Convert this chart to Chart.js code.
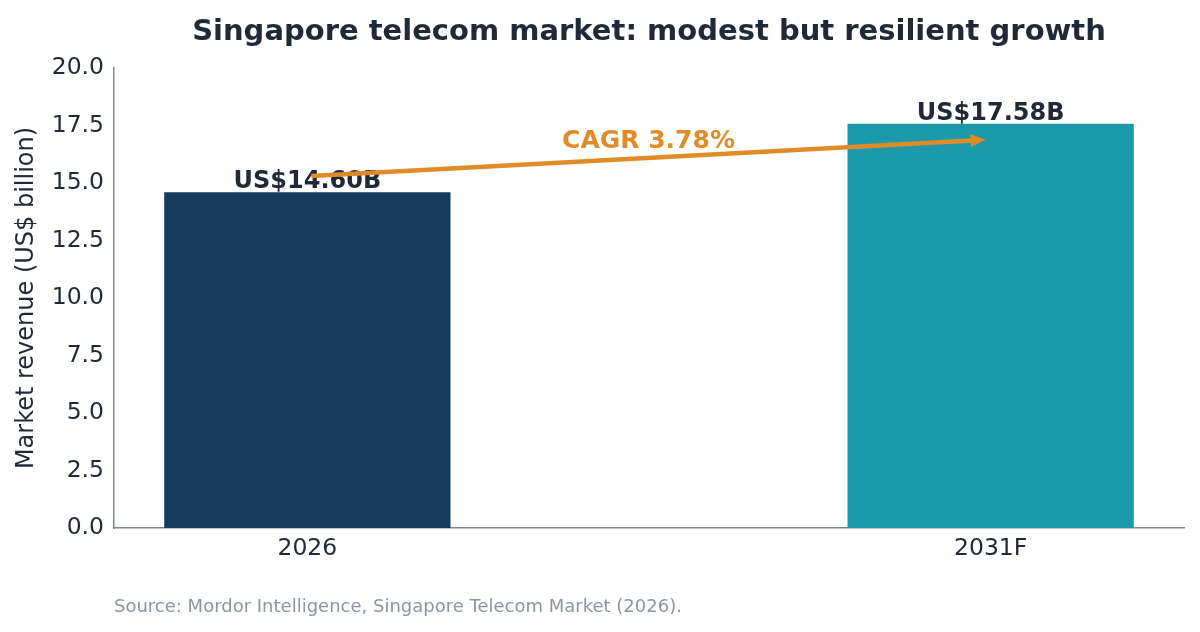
<!DOCTYPE html>
<html>
<head>
<meta charset="utf-8">
<script src="https://cdn.jsdelivr.net/npm/chart.js@4.4.1/dist/chart.umd.min.js"></script>
<style>
html,body{margin:0;padding:0;background:#fff;}
#wrap{width:1200px;height:632px;position:relative;}
</style>
</head>
<body>
<div id="wrap"><canvas id="c" width="1200" height="632"></canvas></div>
<script>
const categories = ["2026", "2031F"];
const revenue = [14.60, 17.58];
const valueLabels = ["US$14.60B", "US$17.58B"];
const cagrLabel = "CAGR 3.78%";
const yTicks = [0, 2.5, 5, 7.5, 10, 12.5, 15, 17.5, 20];
const titleText = "Singapore telecom market: modest but resilient growth";
const sourceText = "Source: Mordor Intelligence, Singapore Telecom Market (2026).";

const FONT = "'DejaVu Sans', sans-serif";
const TEXT = "#1f2937";
const ORANGE = "#e08a28";

const annot = {
  id: "annot",
  afterDatasetsDraw(chart) {
    const ctx = chart.ctx;
    const xs = chart.scales.x, ys = chart.scales.y;
    const area = chart.chartArea;
    ctx.save();
    // title
    ctx.fillStyle = TEXT;
    ctx.font = "bold 29px " + FONT;
    ctx.textAlign = "center";
    ctx.textBaseline = "alphabetic";
    ctx.fillText(titleText, (area.left + area.right) / 2, 40);
    // value labels
    ctx.font = "bold 24px " + FONT;
    revenue.forEach((v, i) => {
      ctx.fillText(valueLabels[i], xs.getPixelForValue(i), ys.getPixelForValue(v) - 4);
    });
    // arrow
    const x1 = xs.getPixelForValue(0) + 4, y1 = ys.getPixelForValue(revenue[0] + 0.7);
    const x2 = xs.getPixelForValue(1) - 5, y2 = ys.getPixelForValue(revenue[1] - 0.7);
    const ang = Math.atan2(y2 - y1, x2 - x1);
    const hl = 15, hw = 6.5;
    const bx = x2 - hl * Math.cos(ang), by = y2 - hl * Math.sin(ang);
    ctx.strokeStyle = ORANGE;
    ctx.fillStyle = ORANGE;
    ctx.lineWidth = 4.5;
    ctx.lineCap = "butt";
    ctx.beginPath();
    ctx.moveTo(x1, y1);
    ctx.lineTo(bx + 2 * Math.cos(ang), by + 2 * Math.sin(ang));
    ctx.stroke();
    ctx.beginPath();
    ctx.moveTo(x2, y2);
    ctx.lineTo(bx - hw * Math.sin(ang), by + hw * Math.cos(ang));
    ctx.lineTo(bx + hw * Math.sin(ang), by - hw * Math.cos(ang));
    ctx.closePath();
    ctx.fill();
    // CAGR label
    ctx.font = "bold 25px " + FONT;
    ctx.fillText(cagrLabel, (x1 + x2) / 2, (y1 + y2) / 2 - 10);
    // source
    ctx.fillStyle = "#8b95a5";
    ctx.font = "18px " + FONT;
    ctx.textAlign = "left";
    ctx.fillText(sourceText, area.left, 612);
    ctx.restore();
  }
};

new Chart(document.getElementById("c"), {
  type: "bar",
  data: {
    datasets: [{
      data: revenue.map((v, i) => ({ x: i, y: v })),
      backgroundColor: ["#163a5b", "#1d9aa9"],
      borderWidth: 0,
      categoryPercentage: 1,
      barPercentage: 0.419
    }]
  },
  options: {
    responsive: false,
    animation: false,
    devicePixelRatio: 1,
    layout: { padding: { left: 0, right: 16, top: 68, bottom: 0 } },
    plugins: { legend: { display: false }, title: { display: false }, tooltip: { enabled: false } },
    scales: {
      x: {
        type: "linear",
        offset: false,
        min: -0.283,
        max: 1.283,
        afterBuildTicks(s) { s.ticks = categories.map((c, i) => ({ value: i })); },
        afterFit(s) { s.height = 104; },
        grid: { display: false, drawTicks: false, offset: false },
        border: { display: true, color: "#7b8597", width: 1.5 },
        ticks: {
          padding: 7,
          color: TEXT,
          font: { family: FONT, size: 23.5 },
          callback: (v) => categories[v] ?? "",
          maxRotation: 0
        }
      },
      y: {
        min: 0,
        max: 20,
        afterBuildTicks(s) { s.ticks = yTicks.map(v => ({ value: v })); },
        afterFit(s) { s.width = 114; },
        grid: { display: false, drawTicks: false },
        border: { display: true, color: "#7b8597", width: 1.5 },
        ticks: {
          padding: 10,
          color: TEXT,
          font: { family: FONT, size: 23.5 },
          callback: (v) => Number(v).toFixed(1)
        },
        title: {
          display: true,
          text: "Market revenue (US$ billion)",
          color: TEXT,
          font: { family: FONT, size: 24 },
          padding: { top: 12, bottom: 0 }
        }
      }
    }
  },
  plugins: [annot]
});
</script>
</body>
</html>
